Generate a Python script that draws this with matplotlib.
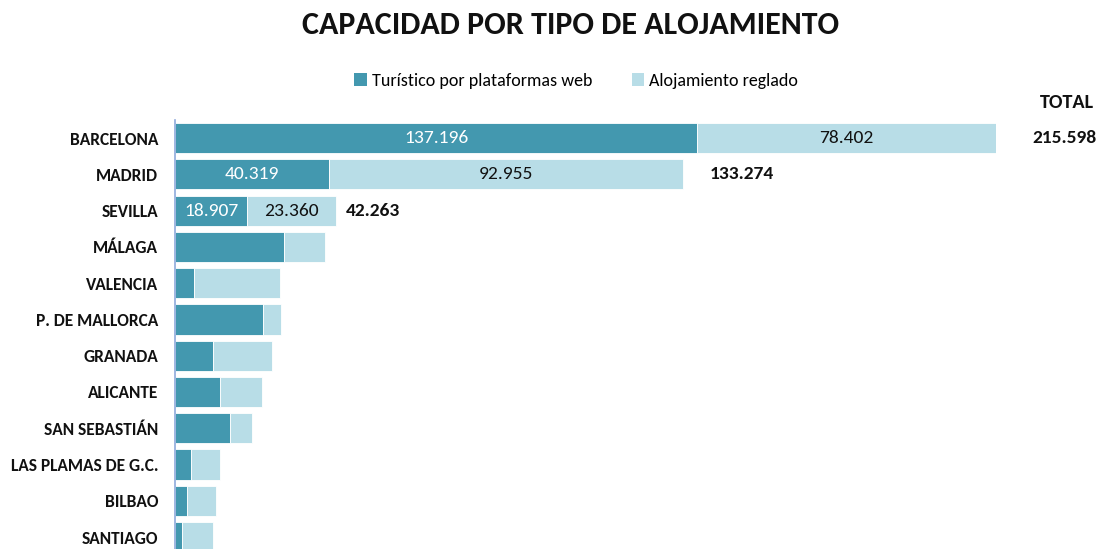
import matplotlib
matplotlib.use("Agg")
import matplotlib.pyplot as plt
from matplotlib.patches import Patch
from matplotlib import font_manager

cities = ["BARCELONA", "MADRID", "SEVILLA", "MÁLAGA", "VALENCIA", "P. DE MALLORCA",
          "GRANADA", "ALICANTE", "SAN SEBASTIÁN", "LAS PLAMAS DE G.C.", "BILBAO", "SANTIAGO"]
web = [137196, 40319, 18907, 28660, 5000, 23140, 9910, 11830, 14380, 4130, 3080, 1760]
reglado = [78402, 92955, 23360, 10780, 22530, 4570, 15690, 11040, 5860, 7700, 7700, 8340]
totals_shown = [215598, 133274, 42263]
series_names = ["Turístico por plataformas web", "Alojamiento reglado"]

c_web = "#4398AF"
c_reg = "#B8DDE7"

avail = {f.name for f in font_manager.fontManager.ttflist}
stretch = "normal"
fam = None
for cand in ["Carlito", "Liberation Sans Narrow", "Archivo Narrow", "Roboto Condensed"]:
    if cand in avail:
        fam = cand
        break
if fam is None:
    fam = "DejaVu Sans"
    stretch = "condensed"
plt.rcParams["font.family"] = [fam, "DejaVu Sans"]
plt.rcParams["font.stretch"] = stretch

W, H = 1101, 549
fig = plt.figure(figsize=(W / 100, H / 100), dpi=100)
ax = fig.add_axes([175 / W, 0, (996 - 175) / W, 429 / H])

y = list(range(len(cities)))
ax.barh(y, web, height=0.83, color=c_web, edgecolor="white", linewidth=0.6)
ax.barh(y, reglado, left=web, height=0.83, color=c_reg, edgecolor="white", linewidth=0.6)
ax.set_xlim(0, web[0] + reglado[0])
ax.set_ylim(11.33, -0.5)

ax.set_yticks(y)
ax.set_yticklabels(cities, fontsize=12.5, fontweight="bold", color="#111111")
ax.tick_params(axis="y", length=0, pad=12)
ax.set_xticks([])
for s in ["top", "right", "bottom"]:
    ax.spines[s].set_visible(False)
ax.spines["left"].set_color("#8FAADC")
ax.spines["left"].set_linewidth(1.2)


def fmt(v):
    return f"{v:,}".replace(",", ".")


pads = [36, 27, 10]
for i, tot in enumerate(totals_shown):
    ax.text(web[i] / 2, i, fmt(web[i]), ha="center", va="center", color="white",
            fontsize=14)
    ax.text(web[i] + reglado[i] / 2, i, fmt(reglado[i]), ha="center", va="center",
            color="#111111", fontsize=14)
    ax.annotate(fmt(tot), xy=(web[i] + reglado[i], i),
                xytext=(pads[i], 0), textcoords="offset pixels",
                ha="left", va="center", fontsize=14, fontweight="bold",
                color="#111111", annotation_clip=False)

fig.text(1094 / W, 1 - 103 / H, "TOTAL", ha="right", va="center", fontsize=14.5,
         fontweight="bold", color="#111111")

fig.text(571 / W, 1 - 25 / H, "CAPACIDAD POR TIPO DE ALOJAMIENTO", ha="center",
         va="center", fontsize=23, fontweight="bold", color="#111111")

handles = [Patch(facecolor=c_web), Patch(facecolor=c_reg)]
fig.legend(handles, series_names, loc="center", bbox_to_anchor=(576 / W, 1 - 81 / H),
           ncol=2, frameon=False, fontsize=13, handlelength=0.7, handleheight=0.7,
           handletextpad=0.25, columnspacing=2.2)

fig.savefig("out.png", dpi=100)
